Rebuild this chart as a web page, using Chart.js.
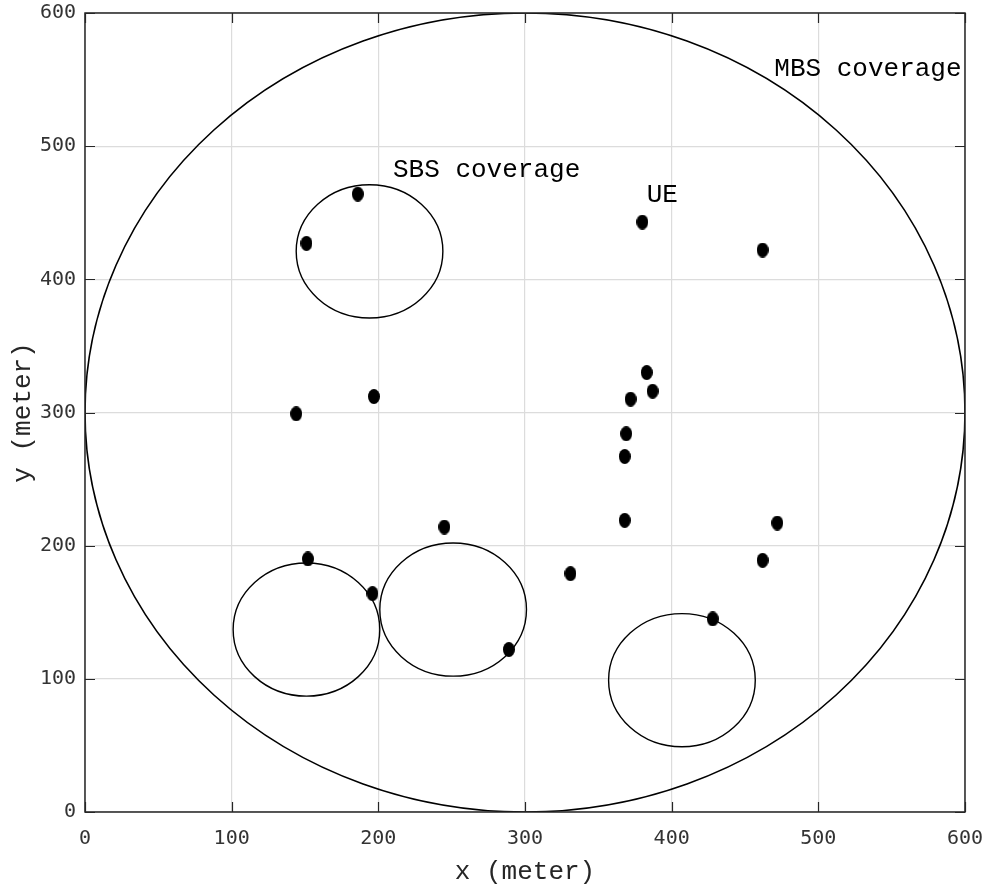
<!DOCTYPE html>
<html><head><meta charset="utf-8">
<script src="https://cdn.jsdelivr.net/npm/chart.js@4.4.1/dist/chart.umd.min.js"></script>
<style>html,body{margin:0;padding:0;background:#fff}#wrap{width:988px;height:890px;position:relative}</style>
</head><body><div id="wrap"><canvas id="c" width="988" height="890"></canvas></div>
<script>
// ---- data ----
const xTickValues = [0, 100, 200, 300, 400, 500, 600];
const yTickValues = [0, 100, 200, 300, 400, 500, 600];
const ueX = [186, 151, 380, 462, 144, 197, 383, 387, 372, 369, 368, 368, 472, 462, 152, 196, 245, 331, 289, 428];
const ueY = [464, 427, 443, 422, 299, 312, 330, 316, 310, 284, 267, 219, 217, 189, 190, 164, 214, 179, 122, 145];
const coverCx = [300, 194, 151, 251, 407];
const coverCy = [300, 421, 137, 152, 99];
const coverR  = [300, 50, 50, 50, 50];
const labelTexts = ['MBS coverage', 'SBS coverage', 'UE'];
const labelX = [470, 210, 383];
const labelY = [553, 477, 458];
const xTitle = 'x (meter)';
const yTitle = 'y (meter)';

const monoFont = '"Liberation Mono", "DejaVu Sans Mono", monospace';
const tickFont = '"DejaVu Sans Mono", monospace';
const axisColor = '#262626';

// ellipse marker image
const marker = document.createElement('canvas');
marker.width = 12; marker.height = 15;
{
  const m = marker.getContext('2d');
  m.fillStyle = '#000';
  m.beginPath(); m.ellipse(6, 7.5, 6, 7.5, 0, 0, Math.PI * 2); m.fill();
}

const coveragePlugin = {
  id: 'coverage',
  beforeDatasetsDraw(chart) {
    const {ctx, chartArea: a, scales: {x, y}} = chart;
    ctx.save();
    ctx.beginPath(); ctx.rect(a.left, a.top, a.right - a.left, a.bottom - a.top); ctx.clip();
    ctx.strokeStyle = '#000';
    coverCx.forEach((cx, i) => {
      const px = x.getPixelForValue(cx), py = y.getPixelForValue(coverCy[i]);
      const rx = Math.abs(x.getPixelForValue(cx + coverR[i]) - px);
      const ry = Math.abs(y.getPixelForValue(coverCy[i] + coverR[i]) - py);
      ctx.lineWidth = i === 0 ? 1.6 : 1.4;
      ctx.beginPath(); ctx.ellipse(px, py, rx, ry, 0, 0, Math.PI * 2); ctx.stroke();
    });
    ctx.restore();
  },
  afterDraw(chart) {
    const {ctx, chartArea: a, scales: {x, y}} = chart;
    ctx.save();
    // frame
    ctx.strokeStyle = axisColor;
    ctx.lineWidth = 1.5;
    ctx.strokeRect(a.left, a.top, a.right - a.left, a.bottom - a.top);
    // inward ticks on all sides
    const tl = 10;
    ctx.beginPath();
    x.ticks.forEach(t => {
      const px = Math.round(x.getPixelForValue(t.value)) + 0.5;
      ctx.moveTo(px, a.bottom); ctx.lineTo(px, a.bottom - tl);
      ctx.moveTo(px, a.top); ctx.lineTo(px, a.top + tl);
    });
    y.ticks.forEach(t => {
      const py = Math.round(y.getPixelForValue(t.value)) + 0.5;
      ctx.moveTo(a.left, py); ctx.lineTo(a.left + tl, py);
      ctx.moveTo(a.right, py); ctx.lineTo(a.right - tl, py);
    });
    ctx.lineWidth = 1.2;
    ctx.stroke();
    // annotations
    ctx.fillStyle = '#000';
    ctx.font = '26px ' + monoFont;
    ctx.textAlign = 'left';
    ctx.textBaseline = 'alphabetic';
    labelTexts.forEach((t, i) => {
      ctx.fillText(t, x.getPixelForValue(labelX[i]), y.getPixelForValue(labelY[i]));
    });
    ctx.restore();
  }
};

const points = ueX.map((v, i) => ({x: v, y: ueY[i]}));

new Chart(document.getElementById('c'), {
  type: 'scatter',
  data: {
    datasets: [{
      label: 'UE',
      data: points,
      pointStyle: marker,
      pointRadius: 7,
      backgroundColor: '#000',
      borderColor: '#000'
    }]
  },
  options: {
    responsive: false,
    animation: false,
    devicePixelRatio: 1,
    layout: {padding: {top: 13, right: 23, left: 0, bottom: 0}},
    plugins: {legend: {display: false}, tooltip: {enabled: false}},
    scales: {
      x: {
        type: 'linear', min: 0, max: 600,
        afterBuildTicks: s => { s.ticks = xTickValues.map(v => ({value: v})); },
        afterFit: s => { s.height = 78; s.paddingLeft = 0; s.paddingRight = 0; },
        grid: {color: '#dcdcdc', lineWidth: 1.2, drawTicks: false},
        border: {display: false},
        ticks: {color: '#333333', font: {family: tickFont, size: 20}, padding: 15, maxRotation: 0},
        title: {display: true, text: xTitle, color: axisColor, font: {family: monoFont, size: 26}, padding: {top: 0, bottom: 2}}
      },
      y: {
        type: 'linear', min: 0, max: 600,
        afterBuildTicks: s => { s.ticks = yTickValues.map(v => ({value: v})); },
        afterFit: s => { s.width = 85; s.paddingTop = 0; s.paddingBottom = 0; },
        grid: {color: '#dcdcdc', lineWidth: 1.2, drawTicks: false},
        border: {display: false},
        ticks: {color: '#333333', font: {family: tickFont, size: 20}, padding: 9},
        title: {display: true, text: yTitle, color: axisColor, font: {family: monoFont, size: 26}, padding: {top: 8, bottom: 0}}
      }
    }
  },
  plugins: [coveragePlugin]
});
</script>
</body></html>
